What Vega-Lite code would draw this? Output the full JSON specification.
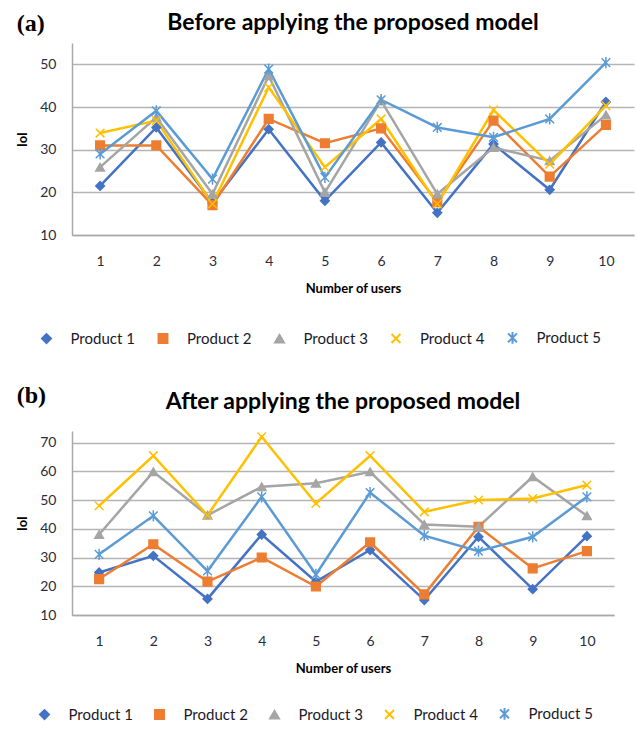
{
  "$schema": "https://vega.github.io/schema/vega-lite/v6.json",
  "padding": {"left": 16, "top": 12, "right": 3, "bottom": 4},
  "background": "white",
  "datasets": {
    "before": [
      {"u":1,"p":"Product 1","v":21.5},{"u":2,"p":"Product 1","v":35.2},{"u":3,"p":"Product 1","v":17.5},{"u":4,"p":"Product 1","v":34.8},{"u":5,"p":"Product 1","v":18},{"u":6,"p":"Product 1","v":31.7},{"u":7,"p":"Product 1","v":15.2},{"u":8,"p":"Product 1","v":31.3},{"u":9,"p":"Product 1","v":20.6},{"u":10,"p":"Product 1","v":41.2},
      {"u":1,"p":"Product 2","v":31},{"u":2,"p":"Product 2","v":31},{"u":3,"p":"Product 2","v":17},{"u":4,"p":"Product 2","v":37.2},{"u":5,"p":"Product 2","v":31.5},{"u":6,"p":"Product 2","v":35},{"u":7,"p":"Product 2","v":17.7},{"u":8,"p":"Product 2","v":36.8},{"u":9,"p":"Product 2","v":23.7},{"u":10,"p":"Product 2","v":35.8},
      {"u":1,"p":"Product 3","v":25.9},{"u":2,"p":"Product 3","v":37.6},{"u":3,"p":"Product 3","v":19.6},{"u":4,"p":"Product 3","v":47.3},{"u":5,"p":"Product 3","v":20},{"u":6,"p":"Product 3","v":41.5},{"u":7,"p":"Product 3","v":19.6},{"u":8,"p":"Product 3","v":30.5},{"u":9,"p":"Product 3","v":27.4},{"u":10,"p":"Product 3","v":38.1},
      {"u":1,"p":"Product 4","v":33.9},{"u":2,"p":"Product 4","v":36.8},{"u":3,"p":"Product 4","v":17.3},{"u":4,"p":"Product 4","v":44.6},{"u":5,"p":"Product 4","v":25.9},{"u":6,"p":"Product 4","v":37.2},{"u":7,"p":"Product 4","v":17.3},{"u":8,"p":"Product 4","v":39.3},{"u":9,"p":"Product 4","v":26.6},{"u":10,"p":"Product 4","v":40.3},
      {"u":1,"p":"Product 5","v":29},{"u":2,"p":"Product 5","v":39.1},{"u":3,"p":"Product 5","v":23.1},{"u":4,"p":"Product 5","v":48.9},{"u":5,"p":"Product 5","v":23.5},{"u":6,"p":"Product 5","v":41.7},{"u":7,"p":"Product 5","v":35.2},{"u":8,"p":"Product 5","v":32.9},{"u":9,"p":"Product 5","v":37.2},{"u":10,"p":"Product 5","v":50.4}
    ],
    "after": [
      {"u":1,"p":"Product 1","v":24.8},{"u":2,"p":"Product 1","v":30.6},{"u":3,"p":"Product 1","v":15.6},{"u":4,"p":"Product 1","v":38},{"u":5,"p":"Product 1","v":21.6},{"u":6,"p":"Product 1","v":32.6},{"u":7,"p":"Product 1","v":15.2},{"u":8,"p":"Product 1","v":37.2},{"u":9,"p":"Product 1","v":19},{"u":10,"p":"Product 1","v":37.4},
      {"u":1,"p":"Product 2","v":22.5},{"u":2,"p":"Product 2","v":34.6},{"u":3,"p":"Product 2","v":21.6},{"u":4,"p":"Product 2","v":30},{"u":5,"p":"Product 2","v":19.9},{"u":6,"p":"Product 2","v":35.3},{"u":7,"p":"Product 2","v":17.2},{"u":8,"p":"Product 2","v":40.7},{"u":9,"p":"Product 2","v":26.2},{"u":10,"p":"Product 2","v":32.2},
      {"u":1,"p":"Product 3","v":38},{"u":2,"p":"Product 3","v":59.8},{"u":3,"p":"Product 3","v":44.7},{"u":4,"p":"Product 3","v":54.6},{"u":5,"p":"Product 3","v":55.8},{"u":6,"p":"Product 3","v":59.8},{"u":7,"p":"Product 3","v":41.5},{"u":8,"p":"Product 3","v":40.7},{"u":9,"p":"Product 3","v":58.1},{"u":10,"p":"Product 3","v":44.5},
      {"u":1,"p":"Product 4","v":48},{"u":2,"p":"Product 4","v":65.4},{"u":3,"p":"Product 4","v":44.7},{"u":4,"p":"Product 4","v":72},{"u":5,"p":"Product 4","v":48.8},{"u":6,"p":"Product 4","v":65.4},{"u":7,"p":"Product 4","v":45.9},{"u":8,"p":"Product 4","v":50},{"u":9,"p":"Product 4","v":50.5},{"u":10,"p":"Product 4","v":55.2},
      {"u":1,"p":"Product 5","v":31.1},{"u":2,"p":"Product 5","v":44.5},{"u":3,"p":"Product 5","v":25.3},{"u":4,"p":"Product 5","v":51.1},{"u":5,"p":"Product 5","v":24.1},{"u":6,"p":"Product 5","v":52.6},{"u":7,"p":"Product 5","v":37.6},{"u":8,"p":"Product 5","v":32.2},{"u":9,"p":"Product 5","v":37.2},{"u":10,"p":"Product 5","v":51.1}
    ]
  },
  "spacing": 36,
  "vconcat": [
    {
      "title": {"text": "(a)", "anchor": "start", "frame": "bounds", "font": "Liberation Serif", "fontSize": 24, "fontWeight": "bold", "color": "black", "offset": -24},
      "vconcat": [
        {
          "title": {"text": "Before applying the proposed model", "anchor": "middle", "font": "Lato", "fontSize": 23, "fontWeight": "bold", "color": "black", "offset": 8},
          "width": 562,
          "height": 192,
          "data": {"name": "before"},
          "encoding": {
            "x": {"field": "u", "type": "ordinal", "scale": {"type": "point", "padding": 0.5}, "axis": {"title": "Number of users"}},
            "y": {"field": "v", "type": "quantitative", "scale": {"domain": [10, 55], "nice": false, "zero": false}, "axis": {"title": "IoI", "values": [10, 20, 30, 40, 50]}}
          },
          "layer": [
            {
              "mark": {"type": "line", "strokeWidth": 2.5},
              "encoding": {
                "stroke": {"field": "p", "type": "nominal", "scale": {"domain": ["Product 1","Product 2","Product 3","Product 4","Product 5"], "range": ["#4472C4","#ED7D31","#A5A5A5","#FFC000","#5B9BD5"]},
                  "legend": {"title": null, "orient": "none", "legendX": -33, "legendY": 287, "columnPadding": 19.5}}
              }
            },
            {
              "mark": {"type": "point", "filled": true, "strokeWidth": 1.5, "size": 75, "opacity": 1},
              "encoding": {
                "stroke": {"field": "p", "type": "nominal", "legend": {"title": null, "orient": "none", "legendX": -33, "legendY": 287, "columnPadding": 19.5}},
                "fill": {"field": "p", "type": "nominal", "scale": {"domain": ["Product 1","Product 2","Product 3","Product 4","Product 5"], "range": ["#4472C4","#ED7D31","#A5A5A5","#FFC000","#5B9BD5"]}, "legend": {"title": null, "orient": "none", "legendX": -33, "legendY": 287, "columnPadding": 19.5}},
                "shape": {"field": "p", "type": "nominal", "scale": {"domain": ["Product 1","Product 2","Product 3","Product 4","Product 5"], "range": ["diamond","square","triangle-up","M-1,-1L1,1M-1,1L1,-1","M-1,-1L1,1M-1,1L1,-1M0,-1.3L0,1.3"]}, "legend": {"title": null, "orient": "none", "legendX": -33, "legendY": 287, "columnPadding": 19.5}}
              }
            }
          ]
        }
      ]
    },
    {
      "title": {"text": "(b)", "anchor": "start", "frame": "bounds", "font": "Liberation Serif", "fontSize": 24, "fontWeight": "bold", "color": "black", "offset": -17},
      "vconcat": [
        {
          "title": {"text": "After applying the proposed model", "anchor": "middle", "font": "Lato", "fontSize": 23, "fontWeight": "bold", "color": "black", "offset": 15},
          "width": 542,
          "height": 184,
          "data": {"name": "after"},
          "encoding": {
            "x": {"field": "u", "type": "ordinal", "scale": {"type": "point", "padding": 0.5}, "axis": {"title": "Number of users"}},
            "y": {"field": "v", "type": "quantitative", "scale": {"domain": [10, 74], "nice": false, "zero": false}, "axis": {"title": "IoI", "values": [10, 20, 30, 40, 50, 60, 70]}}
          },
          "layer": [
            {
              "mark": {"type": "line", "strokeWidth": 2.5},
              "encoding": {
                "stroke": {"field": "p", "type": "nominal", "scale": {"domain": ["Product 1","Product 2","Product 3","Product 4","Product 5"], "range": ["#4472C4","#ED7D31","#A5A5A5","#FFC000","#5B9BD5"]},
                  "legend": {"title": null, "orient": "none", "legendX": -35, "legendY": 275, "columnPadding": 18}}
              }
            },
            {
              "mark": {"type": "point", "filled": true, "strokeWidth": 1.5, "size": 75, "opacity": 1},
              "encoding": {
                "stroke": {"field": "p", "type": "nominal", "legend": {"title": null, "orient": "none", "legendX": -35, "legendY": 275, "columnPadding": 18}},
                "fill": {"field": "p", "type": "nominal", "scale": {"domain": ["Product 1","Product 2","Product 3","Product 4","Product 5"], "range": ["#4472C4","#ED7D31","#A5A5A5","#FFC000","#5B9BD5"]}, "legend": {"title": null, "orient": "none", "legendX": -35, "legendY": 275, "columnPadding": 18}},
                "shape": {"field": "p", "type": "nominal", "scale": {"domain": ["Product 1","Product 2","Product 3","Product 4","Product 5"], "range": ["diamond","square","triangle-up","M-1,-1L1,1M-1,1L1,-1","M-1,-1L1,1M-1,1L1,-1M0,-1.3L0,1.3"]}, "legend": {"title": null, "orient": "none", "legendX": -35, "legendY": 275, "columnPadding": 18}}
              }
            }
          ]
        }
      ]
    }
  ],
  "resolve": {
    "scale": {"y": "independent", "x": "independent", "stroke": "independent", "fill": "independent", "shape": "independent"},
    "legend": {"stroke": "independent", "fill": "independent", "shape": "independent"}
  },
  "config": {
    "font": "Lato",
    "view": {"stroke": null},
    "axis": {"labelFont": "Lato", "labelFontSize": 14, "labelColor": "#2b2b3a", "titleFont": "Lato", "titleFontSize": 13, "titleFontWeight": "bold", "titleColor": "black", "ticks": false, "domainColor": "#a8a8a8", "domainWidth": 1.5, "gridColor": "#b4b4b4", "gridWidth": 1.5},
    "axisX": {"grid": false, "labelAngle": 0, "labelPadding": 19, "titlePadding": 14, "domain": true},
    "axisY": {"grid": true, "labelPadding": 16, "titlePadding": 10},
    "legend": {
      "direction": "horizontal",
      "labelFont": "Lato", "labelFontSize": 15, "labelColor": "#1a1a2a",
      "symbolSize": 80, "symbolStrokeWidth": 2, "labelOffset": 16.5, "padding": 0,
      "symbolOpacity": 1, "symbolFillOpacity": 1
    }
  }
}
